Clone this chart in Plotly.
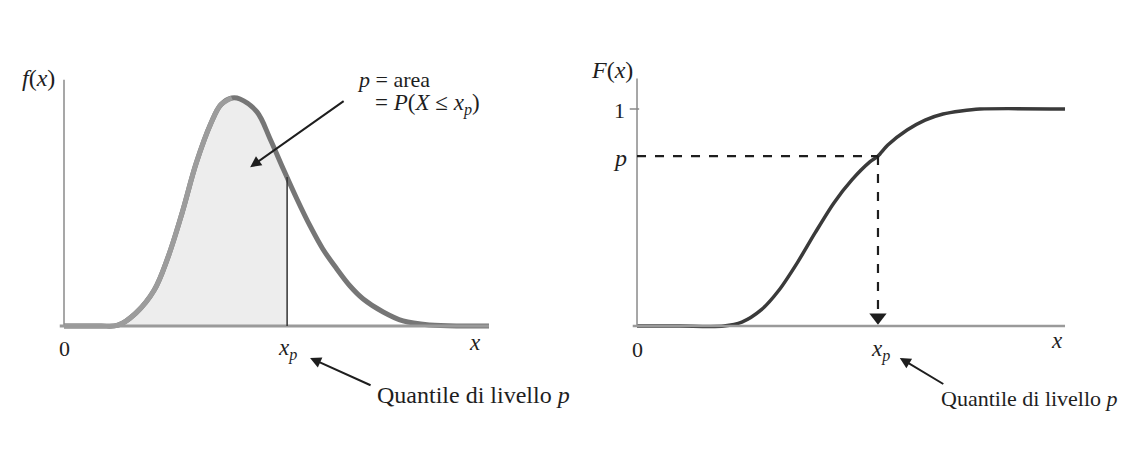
import plotly.graph_objects as go

# Density curve f(x) (left panel)
pdf_x = [0.0, 0.85, 1.27, 1.69, 2.12, 2.45, 2.78, 3.11, 3.46, 3.69, 3.95, 4.14, 4.54, 4.85,
         5.16, 5.48, 5.79, 6.09, 6.42, 6.73, 7.04, 7.51, 7.98, 8.61, 9.39, 10.0]
pdf_y = [0.0, 0.0, 0.001, 0.017, 0.047, 0.091, 0.149, 0.214, 0.267, 0.291, 0.300, 0.2987, 0.2816,
         0.2461, 0.2066, 0.1671, 0.1316, 0.1013, 0.0750, 0.0526, 0.0355, 0.0184, 0.0066, 0.0013,
         0.0, 0.0]
pdf_xp = 5.25
pdf_f_at_xp = 0.196

# Distribution function F(x) (right panel)
cdf_x = [0.0, 1.0, 2.03, 2.45, 2.90, 3.32, 3.74, 4.16, 4.60, 5.02, 5.44, 5.63, 5.86,
         6.31, 6.73, 7.15, 7.57, 8.01, 10.0]
cdf_y = [0.0, 0.0, 0.0, 0.018, 0.074, 0.166, 0.290, 0.429, 0.567, 0.673, 0.756, 0.783, 0.834,
         0.903, 0.949, 0.977, 0.991, 1.0, 1.0]
cdf_xp = 5.63
p_level = 0.783

SERIF = "Liberation Serif"
INK = "#1e1e1e"

fig = go.Figure()

# ---- left panel ----
peak = pdf_y.index(max(pdf_y))
shade_x = [v for v in pdf_x if v < pdf_xp] + [pdf_xp]
shade_y = pdf_y[:len(shade_x) - 1] + [pdf_f_at_xp]
fig.add_trace(go.Scatter(x=shade_x, y=shade_y, mode="lines", line=dict(width=0, shape="spline"),
                         fill="tozeroy", fillcolor="rgba(200,200,200,0.33)",
                         xaxis="x", yaxis="y", hoverinfo="skip"))
fig.add_trace(go.Scatter(x=pdf_x, y=pdf_y, mode="lines",
                         line=dict(color="#767676", width=5, shape="spline"),
                         xaxis="x", yaxis="y"))
fig.add_trace(go.Scatter(x=pdf_x[:peak + 1], y=pdf_y[:peak + 1], mode="lines",
                         line=dict(color="#9c9c9c", width=5, shape="spline"),
                         xaxis="x", yaxis="y"))

# ---- right panel ----
fig.add_trace(go.Scatter(x=cdf_x, y=cdf_y, mode="lines",
                         line=dict(color="#3a3a3a", width=3.5, shape="spline", smoothing=0.8),
                         xaxis="x2", yaxis="y2"))
fig.add_trace(go.Scatter(x=[cdf_xp], y=[0.04], mode="markers",
                         marker=dict(symbol="triangle-down", size=15, color=INK),
                         xaxis="x2", yaxis="y2"))

shapes = [
    # left axes
    dict(type="line", xref="x", yref="y", x0=0, x1=0, y0=0, y1=0.324,
         line=dict(color="#8a8a8a", width=1.5)),
    dict(type="line", xref="x", yref="y", x0=-0.1, x1=10.0, y0=0, y1=0,
         line=dict(color="#9a9a9a", width=3)),
    dict(type="line", xref="x", yref="y", x0=pdf_xp, x1=pdf_xp, y0=0, y1=pdf_f_at_xp,
         line=dict(color="#333333", width=1.5)),
    # right axes
    dict(type="line", xref="x2", yref="y2", x0=0, x1=0, y0=0, y1=1.14,
         line=dict(color="#8a8a8a", width=1.5)),
    dict(type="line", xref="x2", yref="y2", x0=-0.1, x1=10.0, y0=0, y1=0,
         line=dict(color="#9a9a9a", width=2.5)),
    dict(type="line", xref="x2", yref="y2", x0=-0.17, x1=0.05, y0=1, y1=1,
         line=dict(color="#8a8a8a", width=1.5)),
    # quantile guides
    dict(type="line", xref="x2", yref="y2", x0=0, x1=cdf_xp, y0=p_level, y1=p_level,
         line=dict(color=INK, width=2.2, dash="dash")),
    dict(type="line", xref="x2", yref="y2", x0=cdf_xp, x1=cdf_xp, y0=p_level, y1=0.06,
         line=dict(color=INK, width=2.2, dash="dash")),
]


def txt(x, y, s, ref="", size=23, anchor="center"):
    return dict(x=x, y=y, xref="x" + ref, yref="y" + ref, text=s, showarrow=False,
                xanchor=anchor, yanchor="middle",
                font=dict(family=SERIF, size=size, color=INK))


def arrow(x, y, ax, ay, ref=""):
    return dict(x=x, y=y, xref="x" + ref, yref="y" + ref, ax=ax, ay=ay, text="",
                showarrow=True, arrowhead=2, arrowsize=1.1, arrowwidth=2, arrowcolor=INK)


xp_lbl = "<i>x</i><sub><i>p</i></sub>"
annotations = [
    txt(-0.61, 0.326, "<i>f</i>(<i>x</i>)", size=24),
    txt(0, -0.030, "0", size=22),
    txt(pdf_xp, -0.031, xp_lbl),
    txt(9.67, -0.022, "<i>x</i>"),
    txt(6.85, 0.324, "<i>p</i> = area", size=22, anchor="left"),
    txt(7.27, 0.292, "= <i>P</i>(<i>X</i> ≤ <i>x</i><sub><i>p</i></sub>)", size=23, anchor="left"),
    txt(7.32, -0.091, "Quantile di livello <i>p</i>", size=24, anchor="left"),
    arrow(4.38, 0.209, 95, -67),
    arrow(5.79, -0.042, 62, 28),

    txt(-0.58, 1.18, "<i>F</i>(<i>x</i>)", ref="2", size=24),
    txt(-0.42, 0.995, "1", ref="2", size=22),
    txt(-0.40, 0.772, "<i>p</i>", ref="2", size=24),
    txt(0, -0.11, "0", ref="2", size=22),
    txt(cdf_xp + 0.05, -0.112, xp_lbl, ref="2"),
    txt(9.81, -0.066, "<i>x</i>", ref="2"),
    txt(7.06, -0.332, "Quantile <span style='font-size:22px'>di livello <i>p</i></span>",
        ref="2", size=22, anchor="left"),
    arrow(6.14, -0.147, 45, 27, ref="2"),
]

hidden = dict(visible=False, fixedrange=True)
fig.update_layout(
    width=1132, height=452,
    margin=dict(l=0, r=0, t=0, b=0),
    paper_bgcolor="white", plot_bgcolor="rgba(0,0,0,0)",
    showlegend=False,
    xaxis=dict(domain=[0, 0.5], range=[-1.506, 11.812], **hidden),
    yaxis=dict(domain=[0, 1], range=[-0.1658, 0.4289], **hidden),
    xaxis2=dict(domain=[0.5, 1], range=[-1.659, 11.565], **hidden),
    yaxis2=dict(domain=[0, 1], range=[-0.5806, 1.5023], anchor="x2", **hidden),
    shapes=shapes,
    annotations=annotations,
)

fig.write_html("out.html")
